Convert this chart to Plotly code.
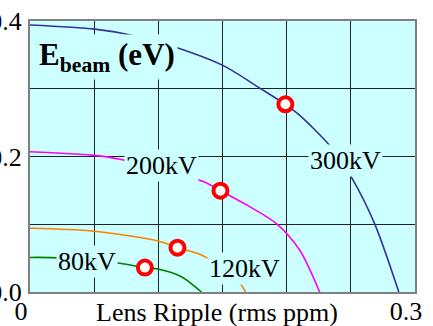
import plotly.graph_objects as go

# ---- data ----
x_300 = [0.0, 0.0506, 0.0791, 0.1152, 0.1517, 0.179, 0.199, 0.210, 0.2347, 0.2503, 0.2685, 0.2874]
y_300 = [0.394, 0.388, 0.379, 0.360, 0.333, 0.301, 0.277, 0.261, 0.2136, 0.170, 0.101, 0.0]

x_200 = [0.0, 0.048, 0.070, 0.1349, 0.1484, 0.1712, 0.192, 0.2101, 0.2257]
y_200 = [0.207, 0.202, 0.196, 0.163, 0.1495, 0.126, 0.101, 0.062, 0.0]

x_120 = [0.0, 0.048, 0.0998, 0.1149, 0.1323, 0.150, 0.163, 0.168]
y_120 = [0.094, 0.090, 0.0753, 0.0654, 0.0556, 0.037, 0.0152, 0.0]

x_80 = [0.0, 0.0163, 0.070, 0.0895, 0.0998, 0.118, 0.1336]
y_80 = [0.051, 0.0507, 0.0424, 0.036, 0.034, 0.0226, 0.0]

marker_x = [0.0895, 0.1149, 0.1484, 0.199]
marker_y = [0.036, 0.0654, 0.1495, 0.277]

series_names = ["300kV", "200kV", "120kV", "80kV"]
series_colors = ["#333399", "#ff00ff", "#ff8000", "#008000"]
label_x = [0.2459, 0.1027, 0.1673, 0.0444]
label_y = [0.1934, 0.186, 0.034, 0.0443]

x_tickvals = [0, 0.3]
x_ticktext = ["0", "0.3"]
x_gridvals = [0.05, 0.1, 0.15, 0.2, 0.25]
y_tickvals = [0, 0.2, 0.4]
y_ticktext = ["0.0", "0.2", "0.4"]
y_gridvals = [0.1, 0.2, 0.3]

x_title = "Lens Ripple (rms ppm)"
panel_title = "<b>E<sub>beam</sub> (eV)</b>"

FONT = "Liberation Serif"
BG = "#ccffff"
GRID = "#222222"

fig = go.Figure()
for xs, ys, name, col in zip([x_300, x_200, x_120, x_80], [y_300, y_200, y_120, y_80],
                             series_names, series_colors):
    fig.add_trace(go.Scatter(x=xs, y=ys, mode="lines", name=name,
                             line=dict(color=col, width=1.6, shape="spline", smoothing=0.8),
                             showlegend=False, hoverinfo="skip"))

fig.add_trace(go.Scatter(x=marker_x, y=marker_y, mode="markers", showlegend=False,
                         marker=dict(size=14, color="white", line=dict(color="#ff0000", width=4))))

for name, lx, ly in zip(series_names, label_x, label_y):
    fig.add_annotation(x=lx, y=ly, xref="x", yref="y", text=name, showarrow=False,
                       font=dict(family=FONT, size=26, color="black"),
                       bgcolor=BG, borderpad=1)

fig.add_annotation(x=0.0599, y=0.347, xref="x", yref="y", text=panel_title, showarrow=False,
                   font=dict(family=FONT, size=31, color="black"), bgcolor=BG, borderpad=2)

fig.add_annotation(x=0.486, y=0, xref="paper", yref="paper", text=x_title, showarrow=False,
                   yanchor="middle", yshift=-20,
                   font=dict(family=FONT, size=26, color="black"))

fig.update_xaxes(range=[0, 0.3], tickmode="array", tickvals=x_tickvals, ticktext=x_ticktext,
                 showgrid=False, zeroline=False, automargin=False,
                 minor=dict(tickmode="array", tickvals=x_gridvals, showgrid=True,
                            gridcolor=GRID, gridwidth=1, ticks=""),
                 showline=True, mirror=True, linecolor="#808080", linewidth=2,
                 ticks="", ticklabelshift=-9, ticklabelstandoff=-5,
                 tickfont=dict(family=FONT, size=26, color="black"))
fig.update_yaxes(range=[0, 0.4], tickmode="array", tickvals=y_tickvals, ticktext=y_ticktext,
                 showgrid=False, zeroline=False, automargin=False,
                 minor=dict(tickmode="array", tickvals=y_gridvals, showgrid=True,
                            gridcolor=GRID, gridwidth=1, ticks=""),
                 showline=True, mirror=True, linecolor="#808080", linewidth=2,
                 ticks="", ticklabelstandoff=1,
                 tickfont=dict(family=FONT, size=26, color="black"))

fig.update_layout(width=433, height=326, margin=dict(l=30, r=17.5, t=21, b=34, autoexpand=False),
                  plot_bgcolor=BG, paper_bgcolor="white", showlegend=False)

fig.write_html("out.html", config={"displayModeBar": False},
               post_script="document.body.style.margin='0px';document.body.style.padding='0px';")
